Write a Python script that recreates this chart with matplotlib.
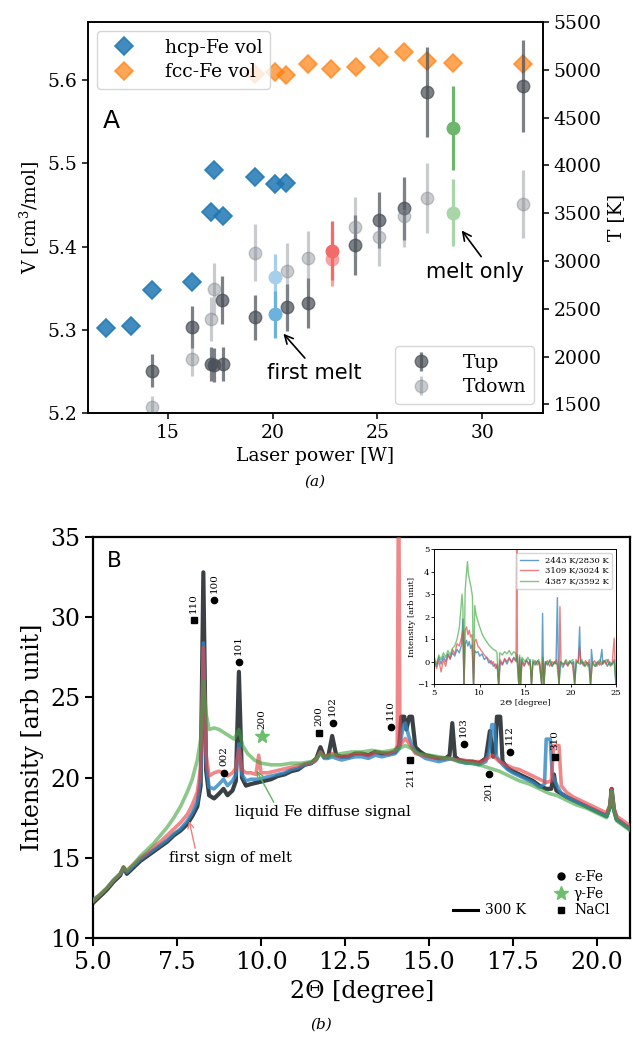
import matplotlib
matplotlib.use("Agg")
import matplotlib.pyplot as plt
from matplotlib.lines import Line2D

plt.rcParams['font.family'] = ['DejaVu Serif']
plt.rcParams['mathtext.fontset'] = 'dejavuserif'

# ---------------- Panel A data ----------------
hcp_power = [12.07, 13.27, 14.27, 16.16, 17.05, 17.64, 17.21, 19.15, 20.11, 20.62]
hcp_vol = [5.302, 5.305, 5.348, 5.358, 5.441, 5.437, 5.492, 5.484, 5.475, 5.476]

fcc_power = [19.15, 20.11, 20.62, 21.69, 22.78, 23.98, 25.08, 26.28, 27.35, 28.58, 31.94]
fcc_vol = [5.607, 5.610, 5.606, 5.619, 5.613, 5.615, 5.628, 5.633, 5.623, 5.620, 5.619]

tup_power = [14.27, 16.16, 17.05, 17.2, 17.64, 17.6, 19.15, 20.67, 21.7, 23.93, 25.09, 26.28, 27.35, 31.94]
tup_T = [1854, 2314, 1924, 1913, 1924, 2593, 2412, 2517, 2559, 3168, 3430, 3552, 4772, 4832]
tup_err = [175, 220, 180, 180, 180, 250, 235, 245, 260, 310, 290, 330, 470, 480]

tdown_power = [14.27, 16.16, 17.05, 17.2, 19.15, 20.67, 21.7, 23.93, 25.09, 26.28, 27.35, 31.94]
tdown_T = [1477, 1976, 2394, 2705, 3088, 2896, 3029, 3353, 3255, 3472, 3657, 3597]
tdown_err = [115, 175, 230, 270, 300, 290, 290, 320, 310, 330, 365, 355]

hl_power = [20.11, 22.82, 28.58]
hl_tup = [2443, 3109, 4387]
hl_tup_err = [245, 305, 440]
hl_tdown = [2830, 3024, 3506]
hl_tdown_err = [240, 280, 350]
hl_up_colors = ['#6cb2df', '#f26b6b', '#6cb76c']
hl_down_colors = ['#a6cfeb', '#f6a3a3', '#a8d6a8']

# ---------------- Panel B data ----------------
x300 = [5.0, 5.2, 5.4, 5.6, 5.8, 5.9, 6.0, 6.2, 6.4, 6.6, 6.8, 7.0, 7.2, 7.4, 7.6, 7.8, 7.95, 8.1, 8.2,
        8.28, 8.36, 8.45, 8.6, 8.75, 8.88, 9.0, 9.15, 9.25, 9.34, 9.43, 9.55, 9.7, 9.9, 10.1, 10.3, 10.5,
        10.7, 10.9, 11.1, 11.3, 11.5, 11.65, 11.77, 11.88, 12.0, 12.12, 12.24, 12.4, 12.6, 12.8, 13.0,
        13.2, 13.4, 13.6, 13.8, 14.0, 14.12, 14.18, 14.27, 14.33, 14.42, 14.5, 14.6, 14.75, 14.9, 15.1,
        15.3, 15.5, 15.62, 15.7, 15.78, 15.9, 16.1, 16.3, 16.5, 16.7, 16.82, 16.92, 16.98, 17.03, 17.13,
        17.2, 17.35, 17.5, 17.7, 17.9, 18.1, 18.3, 18.5, 18.65, 18.73, 18.8, 18.95, 19.1, 19.3, 19.5,
        19.7, 19.9, 20.1, 20.3, 20.4, 20.45, 20.52, 20.6, 20.8, 21.0]
y300 = [12.2, 12.6, 13.0, 13.5, 13.9, 14.4, 14.0, 14.4, 14.8, 15.1, 15.4, 15.7, 16.0, 16.4, 16.7, 17.1, 17.6, 18.2, 19.5,
        32.8, 20.5, 18.9, 18.7, 19.0, 19.3, 18.9, 19.2, 19.8, 26.6, 20.0, 19.5, 19.6, 19.7, 19.8, 19.9, 20.1,
        20.2, 20.4, 20.5, 20.8, 20.9, 21.2, 21.9, 21.3, 21.3, 22.6, 21.4, 21.3, 21.3, 21.5, 21.5,
        21.4, 21.6, 21.5, 21.5, 21.6, 22.0, 23.8, 23.8, 23.0, 23.8, 23.8, 21.9, 21.6, 21.4, 21.3,
        21.2, 21.2, 21.4, 23.4, 21.3, 21.1, 21.0, 21.0, 20.9, 21.2, 22.9, 21.3, 21.6, 23.8, 23.8,
        21.0, 20.6, 20.4, 20.2, 20.0, 19.8, 19.5, 19.3, 19.3, 20.2, 19.2, 19.0, 18.8, 18.6, 18.4,
        18.2, 18.0, 17.8, 17.6, 18.2, 19.3, 18.0, 17.4, 17.1, 16.8]

xblue = [5.0, 5.2, 5.4, 5.6, 5.8, 5.9, 6.0, 6.2, 6.4, 6.6, 6.8, 7.0, 7.2, 7.4, 7.6, 7.8, 7.95, 8.1, 8.2,
         8.28, 8.36, 8.45, 8.6, 8.75, 8.88, 9.0, 9.15, 9.25, 9.34, 9.43, 9.55, 9.7, 9.9, 10.1, 10.3, 10.5,
         10.7, 10.9, 11.1, 11.3, 11.5, 11.65, 11.77, 11.88, 12.0, 12.12, 12.24, 12.4, 12.6, 12.8, 13.0,
         13.2, 13.4, 13.6, 13.8, 14.0, 14.12, 14.22, 14.3, 14.4, 14.5, 14.6, 14.75, 14.9, 15.1, 15.3,
         15.5, 15.7, 15.9, 16.1, 16.3, 16.5, 16.7, 16.8, 16.88, 16.95, 17.02, 17.2, 17.35, 17.5, 17.7,
         17.9, 18.1, 18.3, 18.45, 18.5, 18.62, 18.68, 18.8, 18.95, 19.1, 19.3, 19.5, 19.7, 19.9, 20.1,
         20.3, 20.4, 20.45, 20.52, 20.6, 20.8, 21.0]
yblue = [12.4, 12.7, 13.1, 13.6, 14.0, 14.3, 14.1, 14.5, 14.9, 15.2, 15.5, 15.8, 16.1, 16.5, 16.8, 17.3, 17.8, 18.5, 20.0,
         28.4, 21.0, 19.4, 19.3, 19.6, 19.9, 19.5, 19.8, 20.2, 22.1, 20.2, 19.8, 19.9, 19.9, 20.0, 20.1, 20.2,
         20.3, 20.5, 20.6, 20.8, 20.9, 21.1, 21.6, 21.2, 21.2, 21.3, 21.2, 21.1, 21.2, 21.3, 21.3,
         21.2, 21.4, 21.3, 21.4, 21.5, 21.8, 23.0, 23.4, 22.6, 22.0, 21.6, 21.4, 21.2, 21.1, 21.0,
         21.1, 21.2, 21.0, 20.9, 20.9, 20.8, 21.0, 21.6, 23.3, 23.3, 21.3, 20.8, 20.5, 20.3, 20.1,
         19.9, 19.7, 19.4, 19.6, 22.4, 22.4, 20.2, 19.6, 19.0, 18.8, 18.6, 18.4, 18.2, 18.0, 17.8,
         17.6, 18.2, 19.2, 18.0, 17.4, 17.1, 16.8]

xred = [5.0, 5.2, 5.4, 5.6, 5.8, 5.9, 6.0, 6.2, 6.4, 6.6, 6.8, 7.0, 7.2, 7.4, 7.6, 7.8, 7.95, 8.1, 8.2,
        8.28, 8.36, 8.45, 8.6, 8.75, 8.88, 9.0, 9.15, 9.25, 9.34, 9.43, 9.55, 9.7, 9.85, 9.93, 10.0, 10.2,
        10.4, 10.6, 10.8, 11.0, 11.2, 11.4, 11.6, 11.77, 11.9, 12.12, 12.3, 12.6, 12.9, 13.2, 13.5, 13.8,
        14.0, 14.06, 14.1, 14.14, 14.3, 14.45, 14.6, 14.8, 15.0, 15.3, 15.6, 15.8, 16.0, 16.3, 16.6, 16.9,
        17.1, 17.3, 17.5, 17.7, 17.9, 18.1, 18.3, 18.5, 18.65, 18.72, 18.88, 18.95, 19.1, 19.3, 19.5,
        19.7, 19.9, 20.1, 20.3, 20.4, 20.45, 20.52, 20.6, 20.8, 21.0]
yred = [12.3, 12.7, 13.1, 13.6, 14.0, 14.4, 14.2, 14.6, 15.0, 15.3, 15.7, 16.0, 16.4, 16.8, 17.2, 17.7, 18.3, 19.1, 20.6,
        28.1, 21.5, 20.1, 20.3, 20.4, 20.3, 20.1, 20.3, 20.6, 21.8, 20.5, 20.3, 20.3, 20.2, 21.4, 20.3, 20.3,
        20.4, 20.5, 20.6, 20.7, 20.8, 20.9, 21.0, 21.6, 21.3, 21.5, 21.3, 21.4, 21.5, 21.4, 21.6, 21.5,
        21.7, 22.0, 40.0, 22.0, 22.45, 22.0, 21.5, 21.4, 21.3, 21.2, 21.2, 21.1, 21.1, 21.0, 21.0, 21.4,
        21.0, 20.8, 20.6, 20.5, 20.3, 20.1, 19.9, 19.7, 19.8, 22.0, 22.0, 19.5, 19.1, 18.8, 18.6,
        18.4, 18.2, 18.0, 17.8, 18.3, 19.3, 18.1, 17.6, 17.3, 17.0]

xgreen = [5.0, 5.2, 5.4, 5.6, 5.8, 5.9, 6.0, 6.2, 6.4, 6.6, 6.8, 7.0, 7.2, 7.4, 7.6, 7.8, 7.95, 8.1, 8.2,
          8.28, 8.36, 8.45, 8.6, 8.75, 8.9, 9.05, 9.2, 9.34, 9.45, 9.6, 9.8, 10.0, 10.3, 10.6, 10.9, 11.2,
          11.5, 11.65, 11.77, 11.9, 12.12, 12.4, 12.7, 13.0, 13.3, 13.6, 13.9, 14.1, 14.3, 14.5, 14.7,
          15.0, 15.3, 15.6, 15.9, 16.2, 16.5, 16.8, 17.1, 17.4, 17.7, 18.0, 18.3, 18.6, 18.8, 19.1, 19.4,
          19.7, 20.0, 20.3, 20.4, 20.45, 20.52, 20.6, 20.8, 21.0]
ygreen = [12.3, 12.7, 13.1, 13.6, 14.0, 14.4, 14.2, 14.6, 15.1, 15.5, 15.9, 16.4, 16.9, 17.5, 18.2, 19.1, 19.9, 21.1, 22.4,
          26.0, 24.0, 23.0, 23.1, 23.0, 22.8, 22.6, 22.4, 23.0, 22.0, 21.5, 21.1, 20.9, 20.8, 20.8, 20.9, 20.9,
          21.0, 21.2, 21.5, 21.3, 21.4, 21.5, 21.6, 21.6, 21.7, 21.6, 21.7, 21.8, 22.0, 21.8, 21.5,
          21.4, 21.3, 21.2, 21.0, 20.9, 20.8, 20.6, 20.4, 20.1, 19.8, 19.6, 19.3, 19.0, 18.9, 18.6, 18.3,
          18.1, 17.8, 17.5, 18.2, 19.2, 17.9, 17.3, 17.0, 16.7]

# peak markers
eps_x = [8.61, 9.33, 8.90, 12.13, 13.86, 16.04, 16.79, 17.41]
eps_y = [31.07, 27.23, 20.3, 23.4, 23.17, 22.1, 20.2, 21.6]
eps_lbl = ['100', '101', '002', '102', '110', '103', '201', '112']
eps_up = [True, True, True, True, True, True, False, True]
nacl_x = [7.99, 11.72, 14.45, 18.75]
nacl_y = [29.83, 22.8, 21.1, 21.27]
nacl_lbl = ['110', '200', '211', '310']
nacl_up = [True, True, False, True]
gam_x = [10.03]
gam_y = [22.6]
gam_lbl = ['200']

# inset difference spectra
ibx = [5.0, 5.25, 5.5, 5.75, 6.0, 6.25, 6.5, 6.75, 7.0, 7.25, 7.5, 7.75, 8.0, 8.15, 8.27, 8.4, 8.55, 8.7,
       8.85, 9.0, 9.15, 9.32, 9.45, 9.6, 9.8, 10.0, 10.25, 10.5, 10.75, 11.0, 11.25, 11.5, 11.75, 11.95,
       12.1, 12.25, 12.5, 12.75, 13.0, 13.25, 13.5, 13.75, 14.0, 14.15, 14.3, 14.4, 14.5, 14.65, 14.9,
       15.15, 15.4, 15.55, 15.7, 15.85, 16.1, 16.35, 16.6, 16.82, 16.92, 17.0, 17.07, 17.2, 17.45, 17.7,
       17.95, 18.2, 18.4, 18.55, 18.65, 18.73, 18.9, 19.15, 19.4, 19.65, 19.9, 20.15, 20.35, 20.45, 20.6,
       20.85, 21.0, 21.1, 21.35, 21.6, 21.85, 22.05, 22.2, 22.3, 22.45, 22.7, 22.95, 23.2, 23.45, 23.55,
       23.8, 24.05, 24.3, 24.55, 24.8, 25.0]
iby = [0.1, -0.2, 0.2, -0.1, 0.25, 0.0, 0.35, 0.15, 0.4, 0.25, 0.55, 0.4, 0.75, 1.9, -1.0, 0.8, 0.95, 0.7,
       0.9, 0.6, 0.75, -1.0, 0.5, 0.4, 0.45, 0.25, 0.35, 0.1, 0.2, -0.05, 0.05, -0.2, -0.1, -0.35,
       -1.0, 0.0, -0.15, 0.1, -0.1, 0.15, 0.0, 0.2, 0.05, 0.3, -1.0, 0.2, -1.0, 0.1, -0.15,
       0.05, -0.1, 0.1, -1.0, 0.0, -0.15, 0.05, -0.1, -1.0, 2.15, -0.2, -1.0, 0.0, -0.15, 0.05,
       -0.2, 0.0, -0.1, 2.85, -0.1, -1.0, 0.0, -0.25, -0.05, -0.15, 0.05, -0.1, 0.0, -1.0, -0.1,
       0.05, 1.55, -0.1, 0.0, -0.2, -0.05, -0.15, -1.0, 0.55, -0.1, -0.2, 0.0, -0.15, 0.55, -0.1,
       0.05, -0.2, 0.0, -0.15, 0.1, -1.0]

irx = [5.0, 5.25, 5.5, 5.75, 6.0, 6.25, 6.5, 6.75, 7.0, 7.25, 7.5, 7.75, 8.0, 8.15, 8.27, 8.4, 8.55, 8.7,
       8.85, 9.0, 9.15, 9.32, 9.45, 9.6, 9.8, 10.0, 10.25, 10.5, 10.75, 11.0, 11.25, 11.5, 11.75, 11.95,
       12.1, 12.25, 12.5, 12.75, 13.0, 13.25, 13.5, 13.75, 14.0, 14.08, 14.15, 14.3, 14.4, 14.5, 14.65,
       14.9, 15.15, 15.4, 15.55, 15.7, 15.85, 16.1, 16.35, 16.6, 16.82, 16.95, 17.07, 17.2, 17.45, 17.7,
       17.95, 18.2, 18.45, 18.6, 18.73, 18.83, 18.95, 19.2, 19.45, 19.7, 19.95, 20.2, 20.45, 20.6, 20.85,
       21.0, 21.15, 21.4, 21.65, 21.9, 22.05, 22.2, 22.4, 22.65, 22.9, 23.15, 23.4, 23.65, 23.9, 24.15,
       24.4, 24.6, 24.8, 24.9, 25.0]
iry = [0.0, -0.3, 0.05, -0.45, 0.1, -0.2, 0.3, 0.1, 0.55, 0.35, 0.8, 0.7, 1.1, 1.35, -1.0, 1.4, 1.55, 1.2,
       1.4, 1.1, 1.2, -1.0, 0.9, 1.0, 0.7, 0.6, 0.45, 0.3, 0.2, 0.1, -0.1, 0.0, -0.3, -0.1,
       -1.0, 0.1, -0.1, 0.15, 0.0, 0.2, -0.05, 0.15, 0.0, 6.0, 0.2, -1.0, 0.1, -1.0, 0.0,
       -0.2, 0.1, -0.15, 0.0, -1.0, -0.1, 0.05, -0.15, 0.0, -1.0, 0.1, -1.0, -0.1, 0.05, -0.2,
       0.0, -0.1, 0.1, -0.2, -1.0, 2.45, 0.0, -0.15, 0.05, -0.2, 0.0, -0.1, -1.0, 0.1, -0.05,
       0.65, 0.0, -0.15, 0.05, -0.2, 0.1, -1.0, -0.1, 0.05, -0.2, 0.0, -0.15, 0.05, -0.1, 0.1,
       -0.2, 0.0, 1.05, 0.0, -1.0]

igx = [5.0, 5.25, 5.5, 5.75, 6.0, 6.25, 6.5, 6.75, 7.0, 7.25, 7.5, 7.75, 7.9, 8.05, 8.15, 8.25, 8.4, 8.55,
       8.65, 8.75, 8.9, 9.05, 9.2, 9.32, 9.45, 9.6, 9.8, 10.0, 10.25, 10.5, 10.75, 11.0, 11.25, 11.5,
       11.75, 11.9, 12.05, 12.2, 12.5, 12.75, 13.0, 13.25, 13.5, 13.75, 14.0, 14.15, 14.3, 14.4, 14.5,
       14.65, 15.0, 15.3, 15.55, 15.7, 15.85, 16.2, 16.5, 16.82, 16.95, 17.07, 17.25, 17.5, 17.75, 18.0,
       18.25, 18.5, 18.73, 18.9, 19.25, 19.5, 19.75, 20.0, 20.25, 20.45, 20.65, 21.0, 21.25, 21.5, 21.75,
       22.0, 22.2, 22.4, 22.75, 23.0, 23.25, 23.5, 23.75, 24.0, 24.25, 24.5, 24.8, 25.0]
igy = [0.2, -0.1, 0.3, 0.1, 0.4, 0.2, 0.5, 0.3, 0.6, 0.7, 1.0, 1.5, 2.2, 3.0, 2.4, -1.0, 3.2, 4.0,
       4.45, 3.9, 3.6, 3.3, 2.9, -1.0, 2.5, 2.1, 1.8, 1.55, 1.25, 1.05, 0.9, 0.75, 0.65, 0.55,
       0.5, 0.4, -1.0, 0.4, 0.3, 0.45, 0.35, 0.5, 0.3, 0.45, 0.35, -0.2, -1.0, 0.3, -1.0,
       0.2, 0.0, 0.2, 0.0, -1.0, 0.1, -0.1, 0.1, -1.0, 0.2, -1.0, 0.0, -0.1, 0.1, -0.2,
       0.0, -0.1, -1.0, 0.0, -0.1, 0.1, -0.1, 0.0, 0.1, -1.0, 0.0, -0.1, 0.1, -0.2, 0.0,
       -0.1, -1.0, 0.0, -0.2, 0.0, 0.1, -0.1, 0.05, 0.1, -0.15, -0.1, 0.0, -1.0]
inset_labels = ['2443 K/2830 K', '3109 K/3024 K', '4387 K/3592 K']

# ---------------- Figure ----------------
fig = plt.figure(figsize=(6.33, 10.42), dpi=100)

# Panel A
axA = fig.add_axes([0.139, 0.6034, 0.719, 0.3755])
axT = axA.twinx()

axA.plot(hcp_power, hcp_vol, ls='none', marker='D', ms=9, color='#1f77b4', mec='#1f77b4',
         mew=1.2, alpha=0.85, label='hcp-Fe vol', zorder=3)
axA.plot(fcc_power, fcc_vol, ls='none', marker='D', ms=9, color='#ff7f0e', mec='#ff7f0e',
         mew=1.2, alpha=0.7, label='fcc-Fe vol', zorder=3)
axA.set_xlim(11.2, 32.9)
axA.set_ylim(5.2, 5.6696)
axA.set_yticks([5.2, 5.3, 5.4, 5.5, 5.6])
axA.set_xticks([15, 20, 25, 30])
axA.set_xlabel('Laser power [W]', fontsize=13.5)
axA.set_ylabel('V [cm$^3$/mol]', fontsize=13.5)
axA.tick_params(labelsize=13.5, width=1.1, length=4)
for s in axA.spines.values():
    s.set_linewidth(1.2)
legA = axA.legend(loc='upper left', fontsize=13.5, framealpha=0.8, handletextpad=1.2,
                  borderpad=0.4, labelspacing=0.35)

tup = axT.errorbar(tup_power, tup_T, yerr=tup_err, fmt='o', ms=9, color='#4a5058', alpha=0.72,
                   elinewidth=2.3, capsize=0, label='Tup', zorder=2)
tdn = axT.errorbar(tdown_power, tdown_T, yerr=tdown_err, fmt='o', ms=9, color='#80868e', alpha=0.42,
                   elinewidth=2.3, capsize=0, label='Tdown', zorder=2)
for px, tu, tue, td, tde, cu, cd in zip(hl_power, hl_tup, hl_tup_err, hl_tdown, hl_tdown_err,
                                         hl_up_colors, hl_down_colors):
    axT.errorbar([px], [td], yerr=[tde], fmt='o', ms=9, color=cd, elinewidth=2.3, capsize=0, zorder=3)
    axT.errorbar([px], [tu], yerr=[tue], fmt='o', ms=9, color=cu, elinewidth=2.3, capsize=0, zorder=4)
axT.set_ylim(1408, 5500)
axT.set_yticks([1500, 2000, 2500, 3000, 3500, 4000, 4500, 5000, 5500])
axT.set_ylabel('T [K]', fontsize=13.5)
axT.tick_params(labelsize=13.5, width=1.1, length=4)
for s in axT.spines.values():
    s.set_linewidth(1.2)
axT.legend(handles=[tup, tdn], labels=['Tup', 'Tdown'], loc='lower right', fontsize=13.5,
           framealpha=0.8, handletextpad=1.2, borderpad=0.4, labelspacing=0.35)

axA.text(0.033, 0.73, 'A', transform=axA.transAxes, fontsize=18, family='DejaVu Sans')
axT.annotate('first melt', xy=(20.43, 2262), xytext=(21.97, 1830), ha='center', va='center',
             fontsize=15, family='DejaVu Sans',
             arrowprops=dict(arrowstyle='->', color='k', lw=1.2, relpos=(0.45, 1.0)))
axT.annotate('melt only', xy=(28.94, 3343), xytext=(29.66, 2889), ha='center', va='center',
             fontsize=15, family='DejaVu Sans',
             arrowprops=dict(arrowstyle='->', color='k', lw=1.2, relpos=(0.6, 1.0)))

fig.text(0.497, 0.538, '(a)', ha='center', va='center', fontsize=11, style='italic')

# Panel B
axB = fig.add_axes([0.1474, 0.0998, 0.848, 0.3848])
axB.plot(x300, y300, color='#3b4045', lw=3.0, zorder=2)
axB.plot(xblue, yblue, color='#2f86c0', lw=2.6, alpha=0.8, zorder=3)
axB.plot(xred, yred, color='#e8474a', lw=2.6, alpha=0.65, zorder=4)
axB.plot(xgreen, ygreen, color='#3fa23f', lw=2.6, alpha=0.6, zorder=5)
axB.set_xlim(5, 21)
axB.set_ylim(10, 35)
axB.set_xticks([5.0, 7.5, 10.0, 12.5, 15.0, 17.5, 20.0])
axB.set_xticklabels(['5.0', '7.5', '10.0', '12.5', '15.0', '17.5', '20.0'])
axB.set_yticks([10, 15, 20, 25, 30, 35])
axB.tick_params(labelsize=17, width=1.5, length=6)
for s in axB.spines.values():
    s.set_linewidth(1.6)
axB.set_xlabel('2Θ [degree]', fontsize=17)
axB.set_ylabel('Intensity [arb unit]', fontsize=17)
axB.text(0.025, 0.926, 'B', transform=axB.transAxes, fontsize=15.5, family='DejaVu Sans')

axB.plot(eps_x, eps_y, ls='none', marker='o', ms=4.5, color='k', zorder=6)
axB.plot(nacl_x, nacl_y, ls='none', marker='s', ms=5, color='k', zorder=6)
axB.plot(gam_x, gam_y, ls='none', marker='*', ms=10, color='#6cbf6c', zorder=6)
for xs, ys, ls_, ups in [(eps_x, eps_y, eps_lbl, eps_up), (nacl_x, nacl_y, nacl_lbl, nacl_up),
                         (gam_x, gam_y, gam_lbl, [True])]:
    for xx, yy, lb, up in zip(xs, ys, ls_, ups):
        axB.annotate(lb, xy=(xx, yy), xytext=(0, 5 if up else -5), textcoords='offset points',
                     rotation=90, ha='center', va='bottom' if up else 'top', fontsize=7.5, zorder=7)

axB.annotate('liquid Fe diffuse signal', xy=(9.83, 20.58), xytext=(11.84, 17.85), ha='center',
             va='center', fontsize=11,
             arrowprops=dict(arrowstyle='->', color='#5cb85c', lw=1.0, relpos=(0.23, 1.0), shrinkA=0))
axB.annotate('first sign of melt', xy=(7.84, 17.46), xytext=(9.08, 14.99), ha='center',
             va='center', fontsize=10.5,
             arrowprops=dict(arrowstyle='->', color='#f08080', lw=1.0, relpos=(0.22, 1.0), shrinkA=0))

mk_handles = [Line2D([], [], ls='none', marker='o', ms=5, color='k'),
              Line2D([], [], ls='none', marker='*', ms=10, color='#6cbf6c'),
              Line2D([], [], ls='none', marker='s', ms=5, color='k')]
legB = axB.legend(mk_handles, ['ε-Fe', 'γ-Fe', 'NaCl'], loc='lower right', frameon=False,
                  fontsize=10, labelspacing=0.2, handlelength=0.8, handletextpad=0.5,
                  bbox_to_anchor=(0.985, 0.02))
axB.add_artist(legB)
axB.legend([Line2D([], [], color='k', lw=2.2)], ['300 K'], loc='lower right', frameon=False,
           fontsize=10, handlelength=1.8, handletextpad=0.5, bbox_to_anchor=(0.83, 0.02))

fig.text(0.507, 0.0163, '(b)', ha='center', va='center', fontsize=11, style='italic')

# Inset
axI = fig.add_axes([0.6861, 0.3433, 0.287, 0.1296])
axI.plot(ibx, iby, color='#1f77b4', lw=1.0, alpha=0.7, label=inset_labels[0])
axI.plot(irx, iry, color='#e8474a', lw=1.0, alpha=0.7, label=inset_labels[1])
axI.plot(igx, igy, color='#2ca02c', lw=1.0, alpha=0.6, label=inset_labels[2])
axI.set_xlim(5, 25)
axI.set_ylim(-1, 5)
axI.set_xticks([5, 10, 15, 20, 25])
axI.set_yticks([-1, 0, 1, 2, 3, 4, 5])
axI.tick_params(labelsize=6, length=2, width=0.6, pad=1.5)
for s in axI.spines.values():
    s.set_linewidth(0.7)
axI.set_xlabel('2Θ [degree]', fontsize=6, labelpad=1)
axI.set_ylabel('Intensity [arb unit]', fontsize=6, labelpad=1)
axI.legend(loc='upper right', fontsize=6, handlelength=2.2, borderpad=0.4, labelspacing=0.3)

fig.savefig('out.png', dpi=100)
